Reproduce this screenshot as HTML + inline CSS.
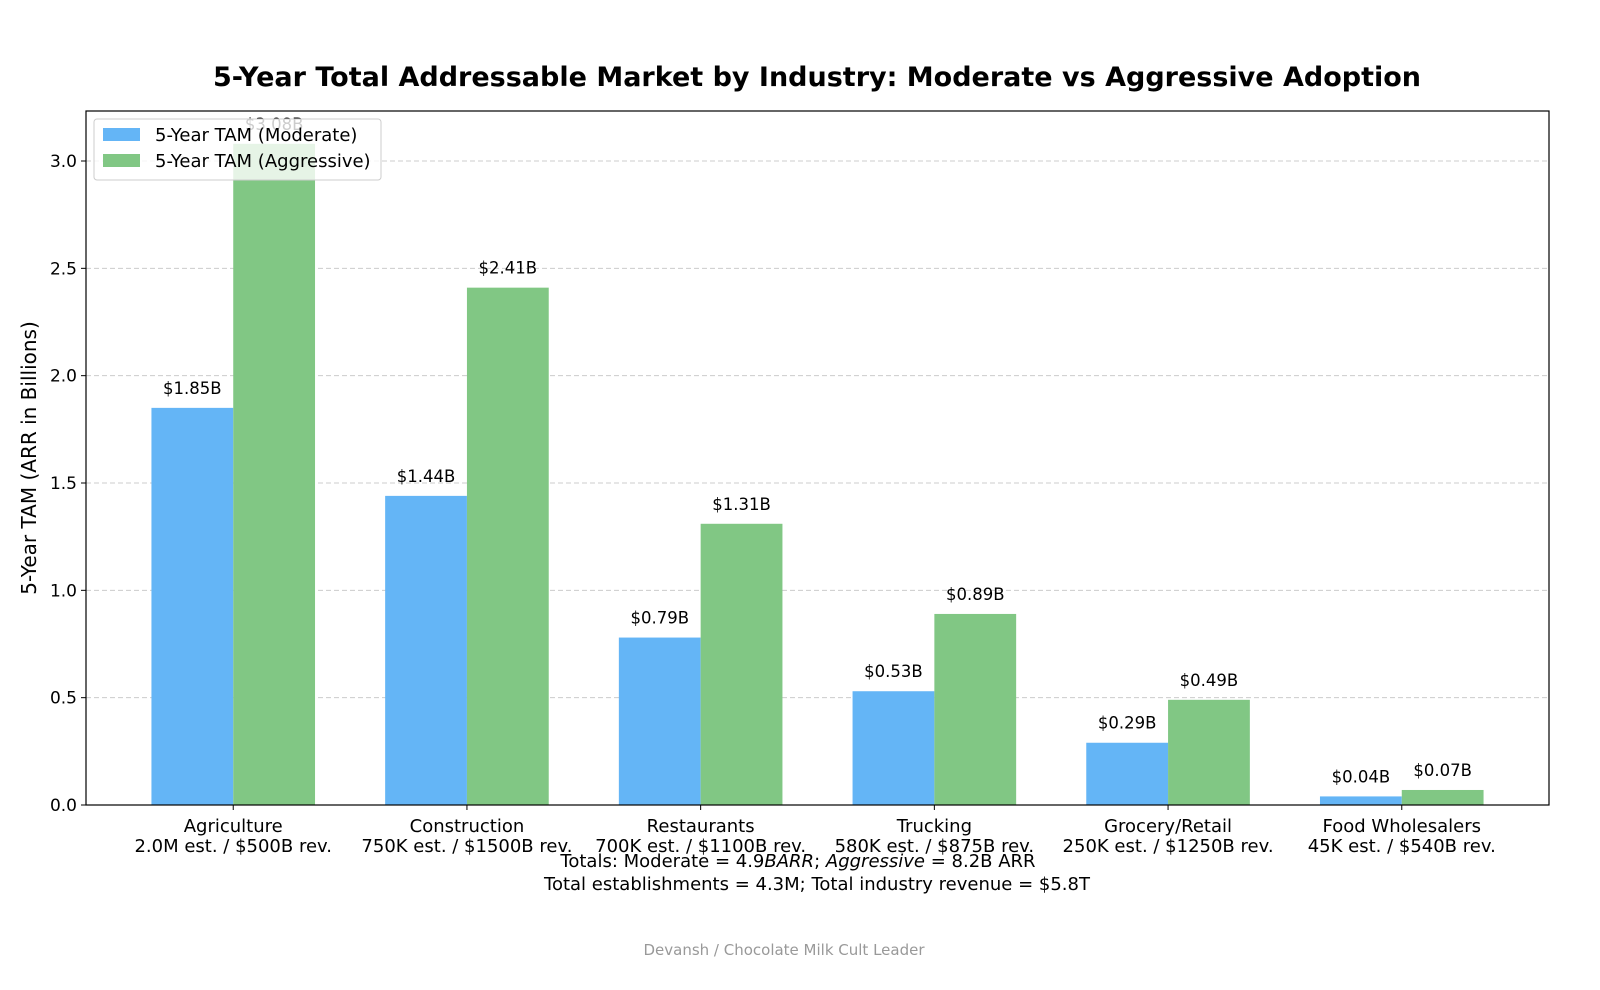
<!DOCTYPE html>
<html><head><meta charset="utf-8"><style>
body{margin:0;background:#fff;width:1600px;height:985px;overflow:hidden}
svg text{font-family:"DejaVu Sans","Liberation Sans",sans-serif}
</style></head><body>
<svg id="c" width="1600" height="985">
<text x="817" y="86" font-size="27" font-weight="bold" text-anchor="middle">5-Year Total Addressable Market by Industry: Moderate vs Aggressive Adoption</text>
<text transform="translate(36,458) rotate(-90)" font-size="20" text-anchor="middle">5-Year TAM (ARR in Billions)</text>
<g id="grid"></g><g id="bars"></g><g id="ticks"></g>
<rect x="86" y="111" width="1463" height="694" fill="none" stroke="#000" stroke-width="1.2"/>
<g>
<rect x="94" y="119" width="287" height="61" rx="3" fill="#fff" fill-opacity="0.8" stroke="#ccc"/>
<rect x="103" y="128" width="37" height="13" fill="#64b5f6"/>
<text x="155" y="141" font-size="18">5-Year TAM (Moderate)</text>
<rect x="103" y="154" width="37" height="13" fill="#81c784"/>
<text x="155" y="167" font-size="18">5-Year TAM (Aggressive)</text>
</g>
<text x="798" y="867" font-size="18" text-anchor="middle">Totals: Moderate = 4.9<tspan font-style="italic">BARR</tspan>; <tspan font-style="italic">Aggressive</tspan> = 8.2B ARR</text>
<text x="817" y="890" font-size="18" text-anchor="middle">Total establishments = 4.3M; Total industry revenue = $5.8T</text>
<text x="784" y="955" font-size="15" fill="#999" text-anchor="middle">Devansh / Chocolate Milk Cult Leader</text>
</svg>
<script>
const categories=["Agriculture","Construction","Restaurants","Trucking","Grocery/Retail","Food Wholesalers"];
const subLabels=["2.0M est. / $500B rev.","750K est. / $1500B rev.","700K est. / $1100B rev.","580K est. / $875B rev.","250K est. / $1250B rev.","45K est. / $540B rev."];
const moderate=[1.85,1.44,0.78,0.53,0.29,0.04];
const aggressive=[3.08,2.41,1.31,0.89,0.49,0.07];
const moderateLabels=["$1.85B","$1.44B","$0.79B","$0.53B","$0.29B","$0.04B"];
const aggressiveLabels=["$3.08B","$2.41B","$1.31B","$0.89B","$0.49B","$0.07B"];
const yTicks=[0,0.5,1,1.5,2,2.5,3];
const yTickLabels=["0.0","0.5","1.0","1.5","2.0","2.5","3.0"];
const NS="http://www.w3.org/2000/svg";
const L=86,R=1549,T=111,B=805;
const y=v=>B-(v/3.0)*(B-161);
const x=i=>L+(i+0.63)/6.26*(R-L);
const bw=0.35/6.26*(R-L);
function mk(tag,at,parent){const e=document.createElementNS(NS,tag);for(const k in at)e.setAttribute(k,at[k]);document.getElementById(parent).appendChild(e);return e;}
yTicks.forEach((t,i)=>{
 if(t>0){const g=mk('line',{x1:L,x2:R,y1:y(t),y2:y(t),stroke:'#ccc','stroke-dasharray':'5,3','stroke-width':1},'grid');
 
 }
 const tk=mk('line',{x1:L-5,x2:L,y1:y(t),y2:y(t),stroke:'#000'},'ticks');
 
 
 const tl=mk('text',{x:L-9,y:y(t)+6,'font-size':17,'text-anchor':'end'},'ticks');tl.textContent=yTickLabels[i];
 
 
});
categories.forEach((c,i)=>{
 const cx=x(i);
 const b1=mk('rect',{x:cx-bw,y:y(moderate[i]),width:bw,height:B-y(moderate[i]),fill:'#64b5f6'},'bars');
 
 
 const b2=mk('rect',{x:cx,y:y(aggressive[i]),width:bw,height:B-y(aggressive[i]),fill:'#81c784'},'bars');
 
 
 const l1=mk('text',{x:cx-bw/2,y:y(moderate[i])-14,'font-size':16.5,'text-anchor':'middle'},'bars');l1.textContent=moderateLabels[i];
 
 
 const l2=mk('text',{x:cx+bw/2,y:y(aggressive[i])-14,'font-size':16.5,'text-anchor':'middle'},'bars');l2.textContent=aggressiveLabels[i];
 
 
 const tk=mk('line',{x1:cx,x2:cx,y1:B,y2:B+5,stroke:'#000'},'ticks');
 
 
 const t1=mk('text',{x:cx,y:832,'font-size':18,'text-anchor':'middle'},'ticks');t1.textContent=c;
 
 
 const t2=mk('text',{x:cx,y:852,'font-size':18,'text-anchor':'middle'},'ticks');t2.textContent=subLabels[i];
 
 
});
</script>
</body></html>
